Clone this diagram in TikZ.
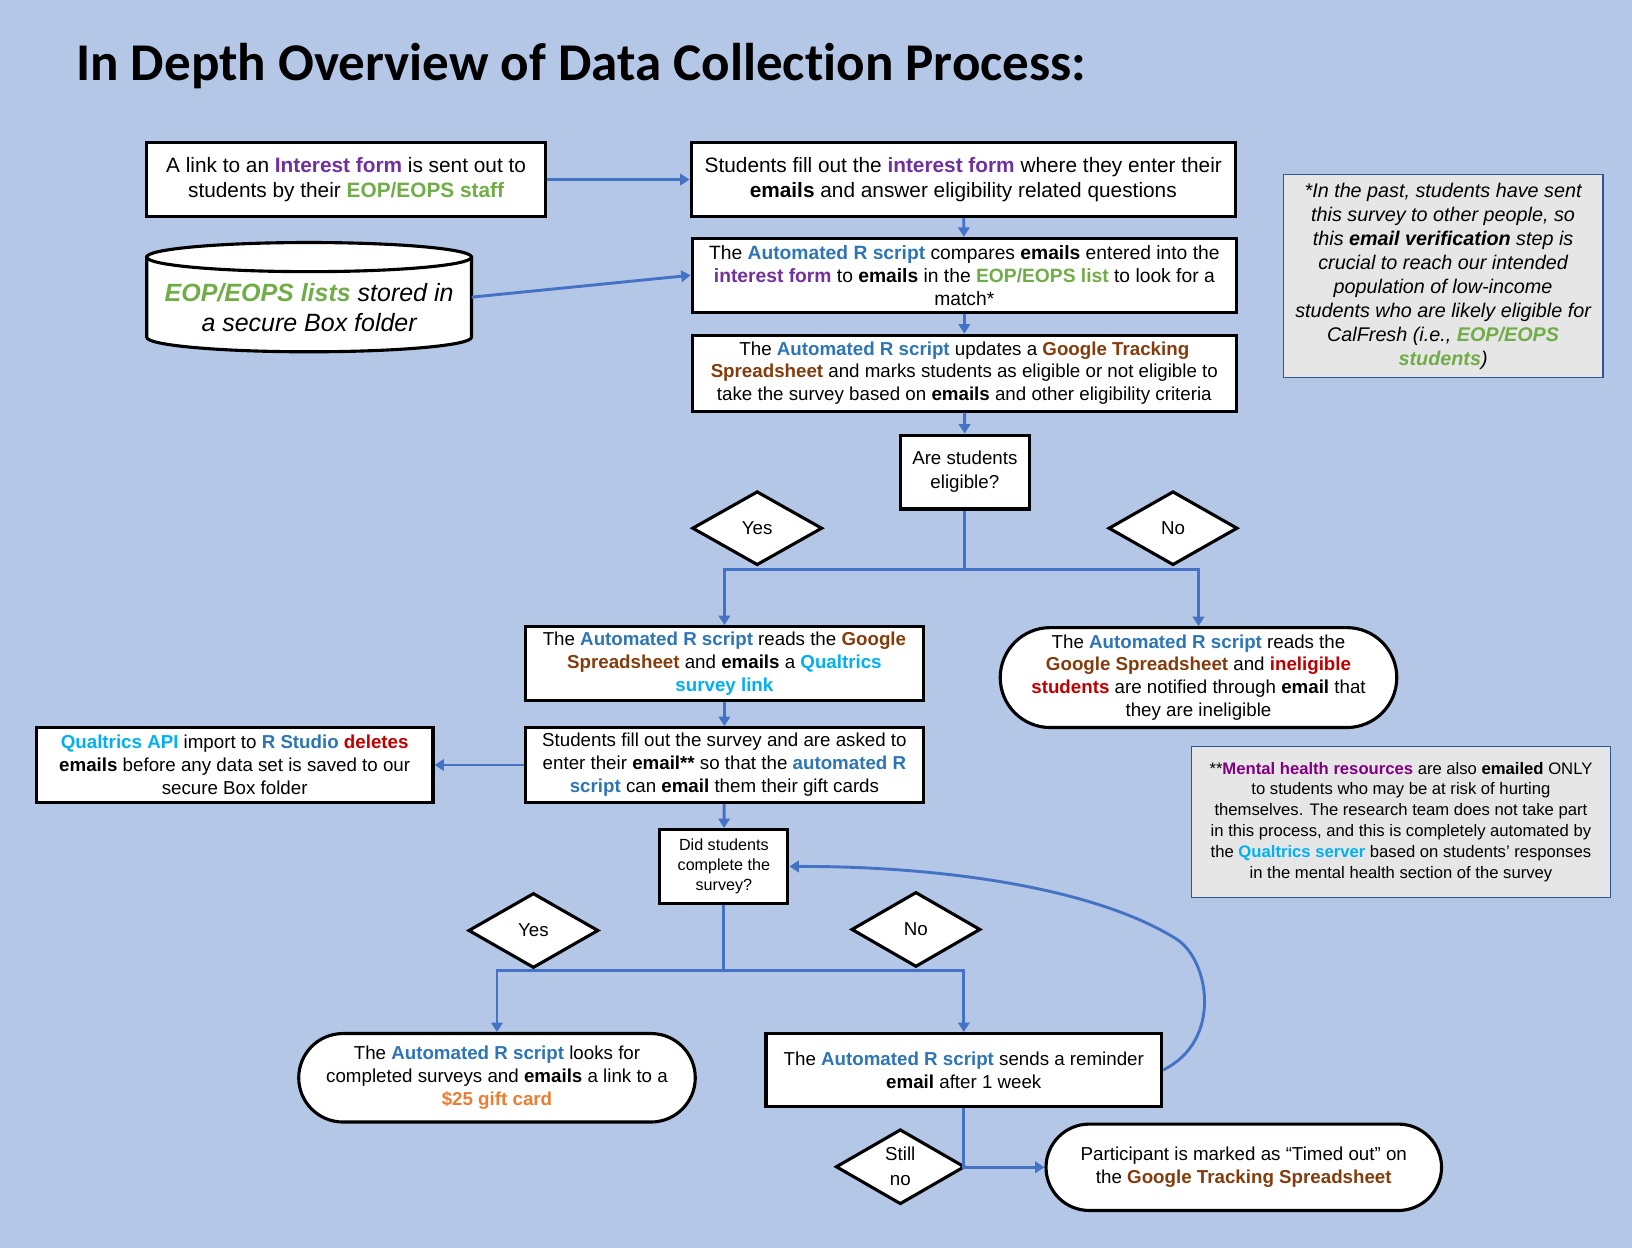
\documentclass[tikz,border=0pt]{standalone}
\usepackage{fontspec}
\setmainfont{Liberation Sans}
\newfontfamily\titlefont[Ligatures=NoCommon]{Carlito}
\usetikzlibrary{arrows.meta,shapes.geometric,shapes.misc}
\definecolor{BackBlue}{HTML}{B4C7E7}
\definecolor{ArrowBlue}{HTML}{4472C4}
\definecolor{ScriptBlue}{HTML}{2E75B6}
\definecolor{FormPurple}{HTML}{7030A0}
\definecolor{EopGreen}{HTML}{70AD47}
\definecolor{SheetBrown}{HTML}{843C0C}
\definecolor{QualCyan}{HTML}{00B0F0}
\definecolor{AlertRed}{HTML}{C00000}
\definecolor{GiftOrange}{HTML}{ED7D31}
\definecolor{HealthPurple}{HTML}{800080}
\definecolor{NoteGray}{HTML}{E7E6E6}
\definecolor{NoteEdge}{HTML}{2F5597}
\newcommand{\colbf}[2]{\textbf{\textcolor{#1}{#2}}}

\begin{document}
\begin{tikzpicture}[x=1pt, y=-1pt,
    box/.style = {draw, line width=3pt, fill=white, align=center, inner sep=2pt,
                  font=\fontsize{18}{22}\selectfont},
    oval/.style = {box, rounded rectangle},
    choice/.style = {draw, line width=3pt, fill=white, diamond, aspect=1.75, inner sep=0pt,
                     align=center, font=\fontsize{18}{24}\selectfont},
    note/.style = {draw=NoteEdge, line width=1.2pt, fill=NoteGray, align=center},
    conn/.style = {ArrowBlue, line width=2.8pt, -{Triangle[width=11pt,length=9pt]}},
    line/.style = {ArrowBlue, line width=2.8pt}]
    %% Background
    \fill[BackBlue] (0,0) rectangle (1568,1199);
    \useasboundingbox (0,0) rectangle (1568,1199);
    \node[anchor=base west, inner sep=0pt, font=\titlefont\bfseries\fontsize{51}{55}\selectfont] (title) at (73,77)
        {In Depth Overview of Data Collection Process:};
    %% Interest form
    \node[box, minimum width=383, minimum height=71, font=\fontsize{20}{24}\selectfont] (invite) at (332.5,172.5)
        {A link to an \colbf{FormPurple}{Interest form} is sent out to\\
         students by their \colbf{EopGreen}{EOP/EOPS staff}};
    \node[box, minimum width=523, minimum height=71, font=\fontsize{20}{24}\selectfont] (fillform) at (925.5,172.5)
        {Students fill out the \colbf{FormPurple}{interest form} where they enter their\\
         \textbf{emails} and answer eligibility related questions};
    %% Stored lists (cylinder)
    \draw[line width=3pt, fill=white] (141,247) -- (141,324)
        arc[start angle=180, end angle=0, x radius=156, y radius=14] -- (453,247) -- cycle;
    \draw[line width=3pt, fill=white] (297,247) ellipse (156 and 14);
    \node[align=center, minimum width=312, minimum height=105,
          font=\itshape\fontsize{24}{29}\selectfont] (lists) at (297,285.5)
        {\\[8pt]\colbf{EopGreen}{EOP/EOPS lists} stored in\\ a secure Box folder};
    %% Checking emails
    \node[box, minimum width=523, minimum height=71, font=\fontsize{18.5}{22}\selectfont] (compare) at (926.5,264.5)
        {The \colbf{ScriptBlue}{Automated R script} compares \textbf{emails} entered into the\\
         \colbf{FormPurple}{interest form} to \textbf{emails} in the \colbf{EopGreen}{EOP/EOPS list} to look for a\\
         match*};
    \node[box, minimum width=523, minimum height=73] (update) at (926.5,358.5)
        {The \colbf{ScriptBlue}{Automated R script} updates a \colbf{SheetBrown}{Google Tracking}\\
         \colbf{SheetBrown}{Spreadsheet} and marks students as eligible or not eligible to\\
         take the survey based on \textbf{emails} and other eligibility criteria};
    \node[box, minimum width=124, minimum height=71, font=\fontsize{18}{23}\selectfont] (eligible) at (927,453.5)
        {Are students\\ eligible?};
    \node[choice, minimum width=125, minimum height=71] (yesA) at (727.5,507.5) {Yes};
    \node[choice, minimum width=124, minimum height=71] (noA) at (1127,507.5) {No};
    %% Eligible / not eligible
    \node[box, minimum width=382, minimum height=71] (sendlink) at (696,637.5)
        {The \colbf{ScriptBlue}{Automated R script} reads the \colbf{SheetBrown}{Google}\\
         \colbf{SheetBrown}{Spreadsheet} and \textbf{emails} a \colbf{QualCyan}{Qualtrics}\\
         \colbf{QualCyan}{survey link}};
    \node[oval, minimum width=381, minimum height=96, inner sep=0pt] (ineligible) at (1151.5,651)
        {The \colbf{ScriptBlue}{Automated R script} reads the\\
         \colbf{SheetBrown}{Google Spreadsheet} and \colbf{AlertRed}{ineligible}\\
         \colbf{AlertRed}{students} are notified through \textbf{email} that\\
         they are ineligible};
    \node[box, minimum width=382, minimum height=72] (survey) at (696,735)
        {Students fill out the survey and are asked to\\
         enter their \textbf{email**} so that the \colbf{ScriptBlue}{automated R}\\
         \colbf{ScriptBlue}{script} can \textbf{email} them their gift cards};
    \node[box, minimum width=381, minimum height=72] (deletes) at (225.5,735)
        {\colbf{QualCyan}{Qualtrics API} import to \colbf{ScriptBlue}{R Studio} \colbf{AlertRed}{deletes}\\
         \textbf{emails} before any data set is saved to our\\
         secure Box folder};
    \node[box, minimum width=123, minimum height=71, font=\fontsize{15.5}{19}\selectfont] (complete) at (695.5,832.5)
        {Did students\\ complete the\\ survey?};
    \node[choice, minimum width=125, minimum height=72] (yesB) at (512.5,894) {Yes};
    \node[choice, minimum width=124, minimum height=72] (noB) at (880,893) {No};
    %% Gift card / reminder
    \node[oval, minimum width=381, minimum height=85, inner sep=0pt] (gift) at (477.5,1035.5)
        {The \colbf{ScriptBlue}{Automated R script} looks for\\
         completed surveys and \textbf{emails} a link to a\\
         \colbf{GiftOrange}{\$25 gift card}};
    \node[box, minimum width=380, minimum height=70] (remind) at (926,1028)
        {The \colbf{ScriptBlue}{Automated R script} sends a reminder\\
         \textbf{email} after 1 week};
    \node[choice, minimum width=124, minimum height=72, font=\fontsize{18}{24}\selectfont] (still) at (865,1121)
        {Still\\ no};
    \node[oval, minimum width=380, minimum height=83, inner sep=0pt] (timeout) at (1195,1121.5)
        {Participant is marked as “Timed out” on\\
         the \colbf{SheetBrown}{Google Tracking Spreadsheet}};
    %% Notes
    \node[note, minimum width=307, minimum height=195, font=\itshape\fontsize{19}{23}\selectfont] (pastnote) at (1386.5,265.5)
        {*In the past, students have sent\\ this survey to other people, so\\
         this \textbf{email verification} step is\\ crucial to reach our intended\\
         population of low-income\\ students who are likely eligible for\\
         CalFresh (i.e., \colbf{EopGreen}{EOP/EOPS}\\ \colbf{EopGreen}{students})};
    \node[note, minimum width=402, minimum height=145, font=\fontsize{16}{20}\selectfont] (healthnote) at (1346,789.5)
        {**\colbf{HealthPurple}{Mental health resources} are also \textbf{emailed} ONLY\\
         to students who may be at risk of hurting\\
         themselves. The research team does not take part\\
         in this process, and this is completely automated by\\
         the \colbf{QualCyan}{Qualtrics server} based on students' responses\\
         in the mental health section of the survey};
    %% Connectors
    \draw[conn] (invite) -- (fillform);
    \draw[conn] (lists.east) -- (compare.west);
    \draw[conn] (fillform) -- (compare);
    \draw[conn] (compare) -- (update);
    \draw[conn] (update) -- (eligible);
    \draw[line] (eligible.south) -- ++(0,57) coordinate (splitA);
    \draw[conn] (splitA) -| (sendlink.north);
    \draw[conn] (splitA) -| (ineligible.north);
    \draw[conn] (sendlink) -- (survey);
    \draw[conn] (survey) -- (deletes);
    \draw[conn] (survey) -- (complete);
    \draw[line] (complete.south) -- ++(0,63) coordinate (splitB);
    \draw[conn] (splitB) -| (gift.north);
    \draw[conn] (splitB) -| (remind.north);
    \draw[conn] (remind.east) .. controls (1175,1000) and (1162,922) .. (1130,902)
        .. controls (1050,852) and (900,832) .. (complete.east);
    \draw[conn] (remind.south) |- (timeout.west);
\end{tikzpicture}
\end{document}
